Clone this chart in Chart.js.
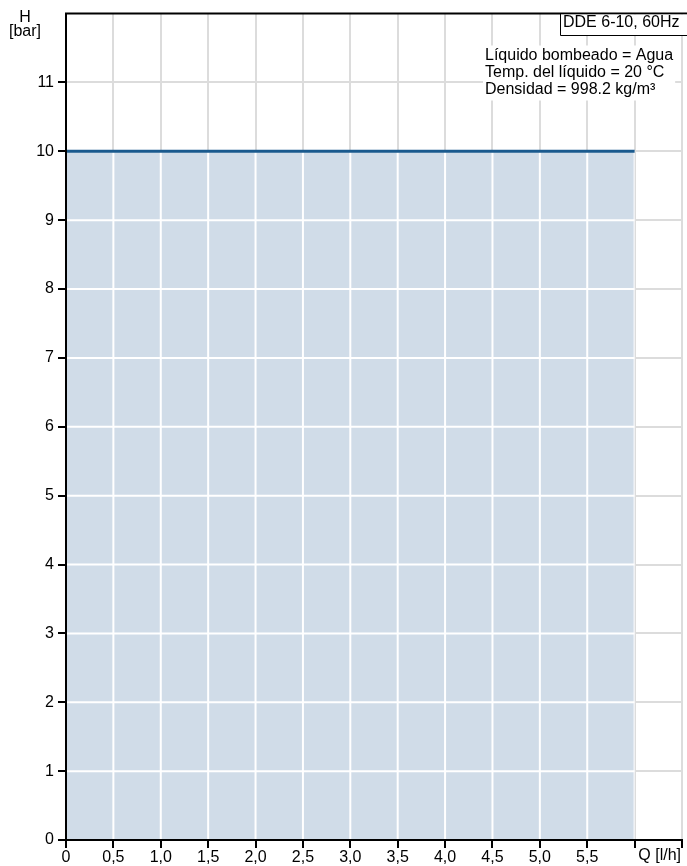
<!DOCTYPE html>
<html>
<head>
<meta charset="utf-8">
<script src="https://cdn.jsdelivr.net/npm/chart.js@4.4.1/dist/chart.umd.min.js"></script>
<style>
  html, body { margin: 0; padding: 0; background: #fff; }
  #wrap { width: 687px; height: 866px; }
</style>
</head>
<body>
<div id="wrap"><canvas id="chart"></canvas></div>
<script>
// pump curve: flow Q [l/h] vs head H [bar]
const flowQ = [0, 6.0];
const headH = [10, 10];

const xTicks = [0, 0.5, 1.0, 1.5, 2.0, 2.5, 3.0, 3.5, 4.0, 4.5, 5.0, 5.5, 6.0, 6.5];
const xTickLabels = ['0', '0,5', '1,0', '1,5', '2,0', '2,5', '3,0', '3,5', '4,0', '4,5', '5,0', '5,5', '', ''];
const yTicks = [0, 1, 2, 3, 4, 5, 6, 7, 8, 9, 10, 11];

const xTitle = 'Q [l/h]';
const yTitle = ['H', '[bar]'];
const boxTitle = 'DDE 6-10, 60Hz';
const infoLines = ['Líquido bombeado = Agua', 'Temp. del líquido = 20 °C', 'Densidad = 998.2 kg/m³'];

const FONT = '"Liberation Sans", Arial, sans-serif';
const points = flowQ.map((q, i) => ({ x: q, y: headH[i] }));

// white grid lines over the filled area, plus black frame and texts
const decorPlugin = {
    id: 'decor',
    afterDatasetDraw(chart, args) {
        if (args.index !== 0) return;
        const { ctx, scales: { x, y } } = chart;
        const left = x.getPixelForValue(flowQ[0]);
        const right = x.getPixelForValue(flowQ[flowQ.length - 1]);
        const top = y.getPixelForValue(Math.max(...headH));
        const bottom = y.getPixelForValue(0);
        ctx.save();
        ctx.beginPath();
        ctx.rect(left, top, right - left, bottom - top);
        ctx.clip();
        ctx.strokeStyle = '#ffffff';
        ctx.lineWidth = 2;
        xTicks.forEach(v => {
            const px = x.getPixelForValue(v);
            ctx.beginPath();
            ctx.moveTo(px, top);
            ctx.lineTo(px, bottom);
            ctx.stroke();
        });
        yTicks.forEach(v => {
            const py = y.getPixelForValue(v);
            ctx.beginPath();
            ctx.moveTo(left, py);
            ctx.lineTo(right, py);
            ctx.stroke();
        });
        ctx.restore();
    },
    afterDraw(chart) {
        const { ctx, chartArea: a, width } = chart;
        ctx.save();
        ctx.strokeStyle = '#000';
        ctx.lineWidth = 2;
        ctx.beginPath();
        ctx.moveTo(a.left, a.bottom);
        ctx.lineTo(a.left, a.top);
        ctx.lineTo(width, a.top);
        ctx.moveTo(a.left - 1, a.bottom);
        ctx.lineTo(a.right, a.bottom);
        ctx.stroke();

        ctx.fillStyle = '#000';
        ctx.textBaseline = 'middle';

        // y title
        ctx.font = '16px ' + FONT;
        ctx.textAlign = 'center';
        ctx.fillText(yTitle[0], 25, 18);
        ctx.fillText(yTitle[1], 25, 32);

        // x title
        ctx.textAlign = 'right';
        ctx.fillText(xTitle, a.right - 1, 856);

        // info text with white background
        ctx.textAlign = 'left';
        const tx = 485;
        const ty = 56;
        const lh = 17;
        let w = 0;
        infoLines.forEach(t => { w = Math.max(w, ctx.measureText(t).width); });
        ctx.fillStyle = '#fff';
        ctx.fillRect(tx - 2, ty - lh / 2 - 2, w + 4, lh * infoLines.length + 4);
        ctx.fillStyle = '#000';
        infoLines.forEach((t, i) => ctx.fillText(t, tx, ty + i * lh));

        // title box
        ctx.fillStyle = '#fff';
        ctx.fillRect(560, a.top + 1, width - 560, 35 - a.top - 1);
        ctx.strokeStyle = '#000';
        ctx.lineWidth = 1;
        ctx.beginPath();
        ctx.moveTo(560.5, a.top);
        ctx.lineTo(560.5, 35.5);
        ctx.lineTo(width, 35.5);
        ctx.stroke();
        ctx.fillStyle = '#000';
        ctx.fillText(boxTitle, 563, 23);
        ctx.restore();
    }
};

new Chart(document.getElementById('chart'), {
    type: 'line',
    data: {
        datasets: [
            {
                label: 'area',
                data: points,
                fill: 'origin',
                backgroundColor: '#d0dce8',
                borderWidth: 0,
                pointRadius: 0,
                order: 2,
            },
            {
                label: 'H',
                data: points,
                fill: false,
                borderColor: '#1a5a8e',
                borderWidth: 3,
                pointRadius: 0,
                order: 1,
            },
        ],
    },
    options: {
        responsive: true,
        maintainAspectRatio: false,
        animation: false,
        layout: { padding: { top: 10, right: 5, left: 0, bottom: 0 } },
        plugins: {
            legend: { display: false },
            tooltip: { enabled: false },
        },
        scales: {
            x: {
                type: 'linear',
                min: 0,
                max: 6.5,
                afterBuildTicks: s => { s.ticks = xTicks.map(v => ({ value: v })); },
                afterFit: s => { s.height = 26; },
                grid: { color: '#dcdcdc', lineWidth: 2, tickColor: '#000', tickLength: 8, tickWidth: 2 },
                border: { color: '#000', width: 2 },
                ticks: {
                    color: '#000',
                    font: { family: FONT, size: 16 },
                    padding: 0,
                    maxRotation: 0,
                    autoSkip: false,
                    callback: (v, i) => xTickLabels[i],
                },
            },
            y: {
                type: 'linear',
                min: 0,
                max: 12,
                afterBuildTicks: s => { s.ticks = yTicks.map(v => ({ value: v })); },
                afterFit: s => { s.width = 66; },
                grid: { color: '#dcdcdc', lineWidth: 2, tickColor: '#000', tickLength: 8, tickWidth: 2 },
                border: { color: '#000', width: 2 },
                ticks: {
                    color: '#000',
                    font: { family: FONT, size: 16 },
                    padding: 4,
                    callback: v => String(v),
                },
            },
        },
    },
    plugins: [decorPlugin],
});
</script>
</body>
</html>
